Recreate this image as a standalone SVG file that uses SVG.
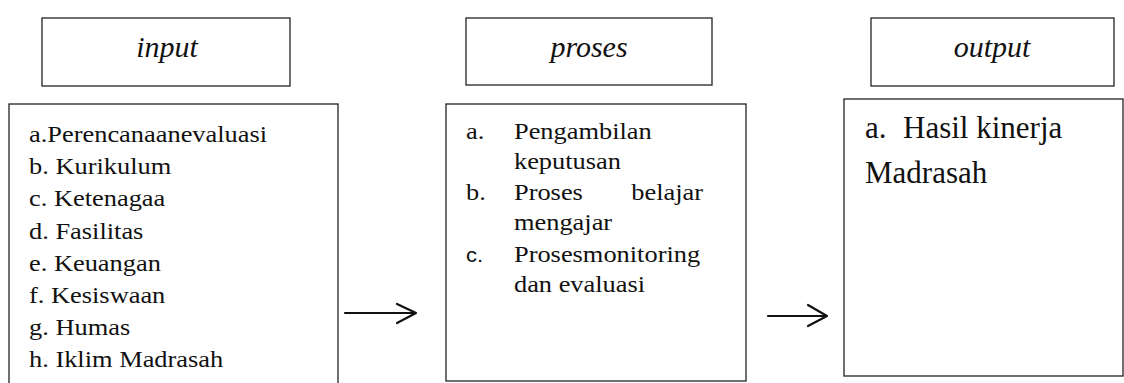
<svg xmlns="http://www.w3.org/2000/svg" width="1124" height="383" viewBox="0 0 1124 383">
<style>
.box{fill:#fff;stroke:#222;stroke-width:1.3}
.hdr{font-family:"Liberation Serif","Times New Roman",serif;font-style:italic;font-size:30px;fill:#111;text-anchor:middle}
.body{font-family:"Liberation Serif","Times New Roman",serif;font-size:24px;fill:#111}
.sans{font-family:"Liberation Sans",Arial,sans-serif;font-size:20px;fill:#111}
.out{font-family:"Liberation Serif","Times New Roman",serif;font-size:31px;fill:#111}
.arrow{stroke:#111;stroke-width:2.2;fill:none;stroke-linecap:round;stroke-linejoin:round}
</style>
<rect width="1124" height="383" fill="#fff"/>
<g id="input-header">
<rect class="box" x="42" y="18" width="248" height="68"/>
<text class="hdr" x="167" y="57">input</text>
</g>
<g id="proses-header">
<rect class="box" x="466" y="18" width="246" height="67"/>
<text class="hdr" x="589" y="57">proses</text>
</g>
<g id="output-header">
<rect class="box" x="871" y="18" width="243" height="68"/>
<text class="hdr" x="992" y="57">output</text>
</g>
<g id="input-body">
<rect class="box" x="9" y="104" width="329" height="290"/>
<g transform="translate(29,0) scale(1.1,1)">
<text class="body" x="0" y="142">a.Perencanaanevaluasi</text>
<text class="body" x="0" y="174">b. Kurikulum</text>
<text class="body" x="0" y="206">c. Ketenagaa</text>
<text class="body" x="0" y="239">d. Fasilitas</text>
<text class="body" x="0" y="271">e. Keuangan</text>
<text class="body" x="0" y="303">f. Kesiswaan</text>
<text class="body" x="0" y="335">g. Humas</text>
<text class="body" x="0" y="367">h. Iklim Madrasah</text>
</g>
</g>
<g id="proses-body">
<rect class="box" x="446" y="104" width="300" height="277"/>
<g transform="translate(466,0) scale(1.1,1)">
<text class="body" x="0" y="139">a.</text>
<text class="body" x="43.6" y="139">Pengambilan</text>
<text class="body" x="43.6" y="169">keputusan</text>
<text class="body" x="0" y="200">b.</text>
<text class="body" x="43.6" y="200">Proses</text>
<text class="body" x="215.5" y="200" text-anchor="end">belajar</text>
<text class="body" x="43.6" y="230">mengajar</text>
<text class="sans" x="0" y="262">c.</text>
<text class="body" x="43.6" y="262">Prosesmonitoring</text>
<text class="body" x="43.6" y="292">dan evaluasi</text>
</g>
</g>
<g id="output-body">
<rect class="box" x="844" y="99" width="279" height="277"/>
<text class="out" x="865" y="138">a.<tspan x="903">Hasil kinerja</tspan></text>
<text class="out" x="865" y="183">Madrasah</text>
</g>
<g id="connectors">
<path class="arrow" d="M345 313 H416 M397 304 L416 313 L397 323"/>
<path class="arrow" d="M768 316 H827 M808 305 L827 316 L808 326"/>
</g>
</svg>
